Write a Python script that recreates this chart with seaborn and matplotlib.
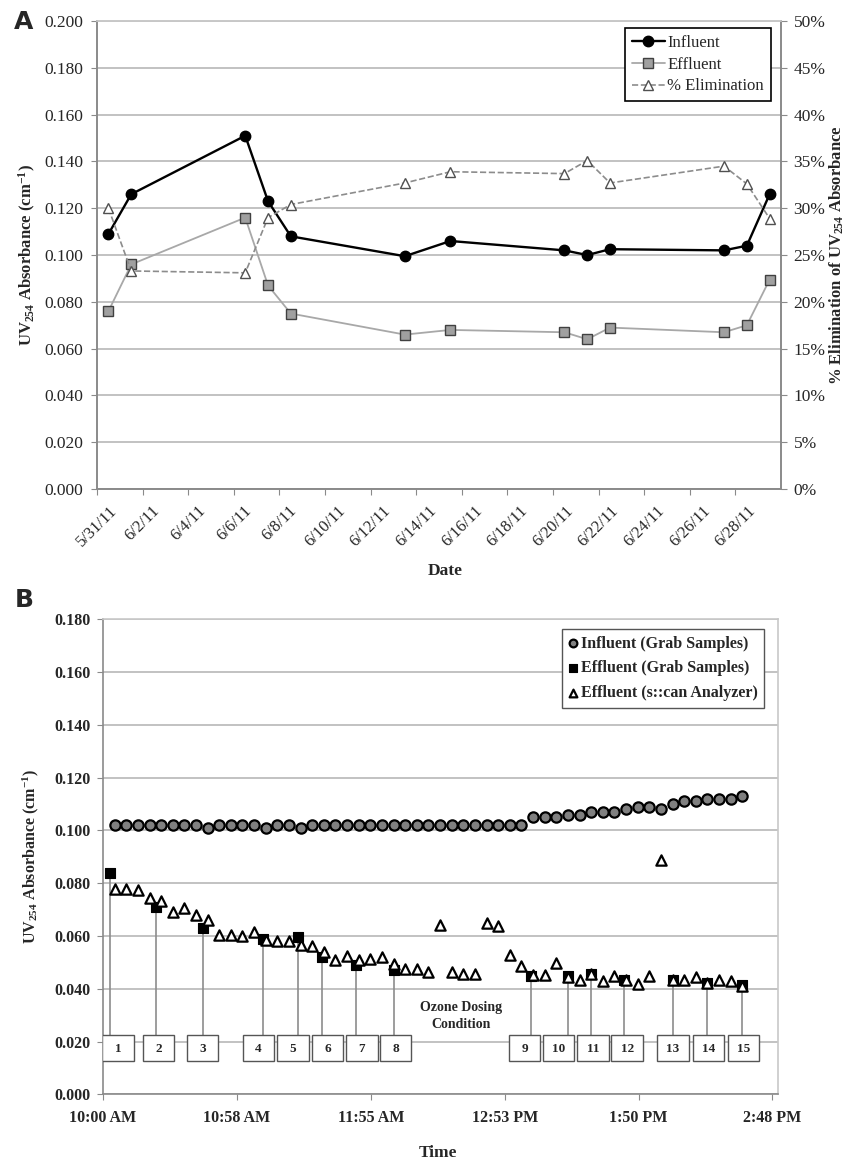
import matplotlib
matplotlib.use("Agg")
import matplotlib.pyplot as plt
from matplotlib.patches import Rectangle
from matplotlib.ticker import PercentFormatter, FormatStrFormatter
import numpy as np
import pandas as pd
import seaborn as sns

# ---- panel A: daily grab samples ----
dates_a = ['2011-05-31 12:00', '2011-06-01 12:00', '2011-06-06 12:00', '2011-06-07 12:00',
           '2011-06-08 12:00', '2011-06-13 12:00', '2011-06-15 12:00', '2011-06-20 12:00',
           '2011-06-21 12:00', '2011-06-22 12:00', '2011-06-27 12:00', '2011-06-28 12:00',
           '2011-06-29 12:00']
influent_a = [0.109, 0.126, 0.151, 0.123, 0.108, 0.0995, 0.106, 0.102, 0.100, 0.1025, 0.102, 0.104, 0.126]
effluent_a = [0.076, 0.096, 0.116, 0.087, 0.075, 0.066, 0.068, 0.067, 0.064, 0.069, 0.067, 0.070, 0.0895]
elim_pct_a = [30.0, 23.3, 23.1, 29.0, 30.4, 32.7, 33.9, 33.7, 35.1, 32.7, 34.5, 32.6, 28.9]

# ---- panel B: one day, minutes after 10:00 AM ----
time_b = [5, 10, 15, 20, 25, 30, 35, 40, 45, 50, 55, 60, 65, 70, 75, 80, 85, 90, 95, 100,
          105, 110, 115, 120, 125, 130, 135, 140, 145, 150, 155, 160, 165, 170, 175, 180,
          185, 190, 195, 200, 205, 210, 215, 220, 225, 230, 235, 240, 245, 250, 255, 260,
          265, 270, 275]
influent_b = [0.102, 0.102, 0.102, 0.102, 0.102, 0.102, 0.102, 0.102, 0.101, 0.102,
              0.102, 0.102, 0.102, 0.101, 0.102, 0.102, 0.101, 0.102, 0.102, 0.102,
              0.102, 0.102, 0.102, 0.102, 0.102, 0.102, 0.102, 0.102, 0.102, 0.102,
              0.102, 0.102, 0.102, 0.102, 0.102, 0.102, 0.105, 0.105, 0.105, 0.106,
              0.106, 0.107, 0.107, 0.107, 0.108, 0.109, 0.109, 0.108, 0.110, 0.111,
              0.111, 0.112, 0.112, 0.112, 0.113]
scan_b = [0.078, 0.078, 0.0775, 0.0743, 0.0734, 0.069, 0.0705, 0.068, 0.066, 0.0604,
          0.0604, 0.060, 0.0616, 0.0585, 0.0582, 0.0582, 0.0566, 0.0562, 0.054, 0.051,
          0.0524, 0.051, 0.0513, 0.0519, 0.0496, 0.0477, 0.0477, 0.0465, 0.0642, 0.0465,
          0.0458, 0.0458, 0.0648, 0.0638, 0.0528, 0.0486, 0.0452, 0.0452, 0.0499, 0.0446,
          0.0433, 0.0456, 0.0429, 0.0448, 0.0435, 0.0420, 0.0448, 0.0889, 0.0433, 0.0433,
          0.0446, 0.0423, 0.0433, 0.0431, 0.0410]
grab_time = [3, 23, 43, 69, 84, 94, 109, 125, 184, 200, 210, 224, 245, 260, 275]
grab_eff = [0.084, 0.071, 0.063, 0.059, 0.0595, 0.052, 0.049, 0.047, 0.045, 0.0448,
            0.0456, 0.0435, 0.0433, 0.0423, 0.0414]
grab_labels = [str(i) for i in range(1, 16)]
box_x = [6.5, 23.8, 42.8, 66.9, 81.6, 96.6, 111.3, 125.8, 181.4, 195.9, 210.7, 225.5, 245.1, 260.5, 275.5]
tick_min_b = [0, 57.6, 115.2, 172.8, 230.4, 288]
tick_lab_b = ['10:00 AM', '10:58 AM', '11:55 AM', '12:53 PM', '1:50 PM', '2:48 PM']

sns.set_style("ticks")
plt.rcParams['font.family'] = ['Liberation Serif', 'DejaVu Serif']
plt.rcParams['mathtext.fontset'] = 'custom'
plt.rcParams['mathtext.rm'] = 'Liberation Serif'
plt.rcParams['mathtext.bf'] = 'Liberation Serif:bold'
plt.rcParams['mathtext.it'] = 'Liberation Serif:italic'

fig = plt.figure(figsize=(8.55, 11.63), dpi=100)

GRID = '#b8b8b8'
SPINE = '#8a8a8a'
LIGHT = '#c8c8c8'

# ================= panel A =================
ax1 = fig.add_axes([0.1135, 0.5795, 0.80, 0.4024])
df_a = pd.DataFrame({'date': pd.to_datetime(dates_a), 'influent': influent_a,
                     'effluent': effluent_a, 'elim': np.array(elim_pct_a) / 100})

sns.lineplot(data=df_a, x='date', y='influent', ax=ax1, color='black', lw=1.7,
             marker='o', markersize=7.5, markerfacecolor='black', markeredgecolor='black',
             markeredgewidth=1, label='Influent', legend=False)
sns.lineplot(data=df_a, x='date', y='effluent', ax=ax1, color='#a8a8a8', lw=1.3,
             marker='s', markersize=6.5, markerfacecolor='#a0a0a0', markeredgecolor='#404040',
             markeredgewidth=1, label='Effluent', legend=False)

ax2 = ax1.twinx()
sns.lineplot(data=df_a, x='date', y='elim', ax=ax2, color='#8c8c8c', lw=1.2, ls='--',
             marker='^', markersize=7, markerfacecolor='white', markeredgecolor='#505050',
             markeredgewidth=1, label='% Elimination', legend=False)

ax1.set_xlim(pd.Timestamp('2011-05-31'), pd.Timestamp('2011-06-30'))
ax1.set_ylim(0, 0.2)
ax1.set_yticks(np.arange(0, 0.2001, 0.02))
ax1.yaxis.set_major_formatter(FormatStrFormatter('%.3f'))
ax2.set_ylim(0, 0.5)
ax2.set_yticks(np.arange(0, 0.5001, 0.05))
ax2.yaxis.set_major_formatter(PercentFormatter(1.0, decimals=0))

tick_dates = pd.date_range('2011-05-31', '2011-06-28', freq='2D')
ax1.set_xticks(tick_dates)
ax1.set_xticklabels([f"{d.month}/{d.day}/{d.year % 100}" for d in tick_dates],
                    rotation=45, ha='center', fontsize=12)

ax1.yaxis.grid(True, color=GRID, lw=1.2)
ax1.set_axisbelow(True)
ax1.tick_params(axis='y', direction='out', length=4, color=SPINE, labelsize=12.5, pad=6)
ax1.tick_params(axis='x', direction='out', length=4, color=SPINE, pad=6)
ax2.tick_params(axis='y', direction='out', length=4, color=SPINE, labelsize=12.5, pad=5)
for ax in (ax1, ax2):
    ax.spines['left'].set_color(SPINE)
    ax.spines['bottom'].set_color(SPINE)
    ax.spines['top'].set_color(LIGHT)
    ax.spines['right'].set_color(SPINE)
    for s in ax.spines.values():
        s.set_linewidth(1.2)

ax1.set_xlabel('Date', fontsize=12.5, fontweight='bold', va='center')
ax1.xaxis.set_label_coords(0.509, -0.176)
ax1.set_ylabel(r'UV$_{\mathbf{254}}$ Absorbance (cm$^{\mathbf{-1}}$)', fontsize=12, fontweight='bold')
ax1.yaxis.set_label_coords(-0.086, 0.5)
ax2.set_ylabel(r'% Elimination of UV$_{\mathbf{254}}$ Absorbance', fontsize=12, fontweight='bold')
ax2.yaxis.set_label_coords(1.068, 0.5)

handles = ax1.get_lines()[:2] + ax2.get_lines()[:1]
leg = ax2.legend(handles=handles, labels=['Influent', 'Effluent', '% Elimination'],
                 loc='upper right', bbox_to_anchor=(0.985, 0.985), borderaxespad=0,
                 fontsize=12, handlelength=2.0, handletextpad=0.15, labelspacing=0.35,
                 frameon=True, fancybox=False, framealpha=1, edgecolor='black')
leg.get_frame().set_linewidth(1.2)

fig.text(0.028, 0.981, 'A', fontsize=18, fontweight='bold', family='DejaVu Sans',
         ha='center', va='center')

# ================= panel B =================
ax3 = fig.add_axes([0.1205, 0.0589, 0.7895, 0.4086])

ax3.vlines(grab_time, 0.0225, grab_eff, color='#8c8c8c', lw=1.2, zorder=2)
for x, lab in zip(box_x, grab_labels):
    ax3.add_patch(Rectangle((x - 6.8, 0.0125), 13.6, 0.0100, facecolor='white',
                            edgecolor='#555555', lw=1.0, zorder=3))
    ax3.text(x, 0.0173, lab, ha='center', va='center', fontsize=9.5,
             fontweight='bold', zorder=4)

sns.scatterplot(x=time_b, y=influent_b, ax=ax3, marker='o', s=55, color='#808080',
                edgecolor='black', linewidth=1.6, label='Influent (Grab Samples)',
                legend=False, zorder=5)
sns.scatterplot(x=grab_time, y=grab_eff, ax=ax3, marker='s', s=62, color='black',
                edgecolor='black', linewidth=0.8, label='Effluent (Grab Samples)',
                legend=False, zorder=6)
sns.scatterplot(x=time_b, y=scan_b, ax=ax3, marker='^', s=55, color='white',
                edgecolor='black', linewidth=1.6, label='Effluent (s::can Analyzer)',
                legend=False, zorder=7)

ax3.text(154, 0.0297, 'Ozone Dosing\nCondition', ha='center', va='center',
         fontsize=10, fontweight='bold', linespacing=1.35)

ax3.set_xlim(0, 290.4)
ax3.set_ylim(0, 0.18)
ax3.set_yticks(np.arange(0, 0.1801, 0.02))
ax3.yaxis.set_major_formatter(FormatStrFormatter('%.3f'))
ax3.set_xticks(tick_min_b)
ax3.set_xticklabels(tick_lab_b)
for t in ax3.get_xticklabels() + ax3.get_yticklabels():
    t.set_fontweight('bold')
    t.set_fontsize(11.5)

ax3.yaxis.grid(True, color=GRID, lw=1.2)
ax3.set_axisbelow(True)
ax3.tick_params(axis='y', direction='out', length=4, color=SPINE, pad=5)
ax3.tick_params(axis='x', direction='out', length=4, color=SPINE, pad=7)
ax3.spines['left'].set_color(SPINE)
ax3.spines['bottom'].set_color(SPINE)
ax3.spines['top'].set_color(LIGHT)
ax3.spines['right'].set_color(LIGHT)
for s in ax3.spines.values():
    s.set_linewidth(1.2)

ax3.set_xlabel('Time', fontsize=12.5, fontweight='bold', va='center')
ax3.xaxis.set_label_coords(0.496, -0.123)
ax3.set_ylabel(r'UV$_{\mathbf{254}}$ Absorbance (cm$^{\mathbf{-1}}$)', fontsize=11.5, fontweight='bold')
ax3.yaxis.set_label_coords(-0.092, 0.5)

leg3 = ax3.legend(handles=ax3.collections[-3:],
                  labels=['Influent (Grab Samples)', 'Effluent (Grab Samples)',
                          'Effluent (s::can Analyzer)'],
                  loc='upper right', bbox_to_anchor=(0.979, 0.979), borderaxespad=0,
                  prop={'size': 11.5, 'weight': 'bold'}, handlelength=0.6,
                  handletextpad=0.15, labelspacing=0.55, markerscale=0.75,
                  frameon=True, fancybox=False, framealpha=1, edgecolor='#555555')
leg3.get_frame().set_linewidth(1.0)

fig.text(0.028, 0.484, 'B', fontsize=18, fontweight='bold', family='DejaVu Sans',
         ha='center', va='center')

fig.savefig('out.png', dpi=100)
